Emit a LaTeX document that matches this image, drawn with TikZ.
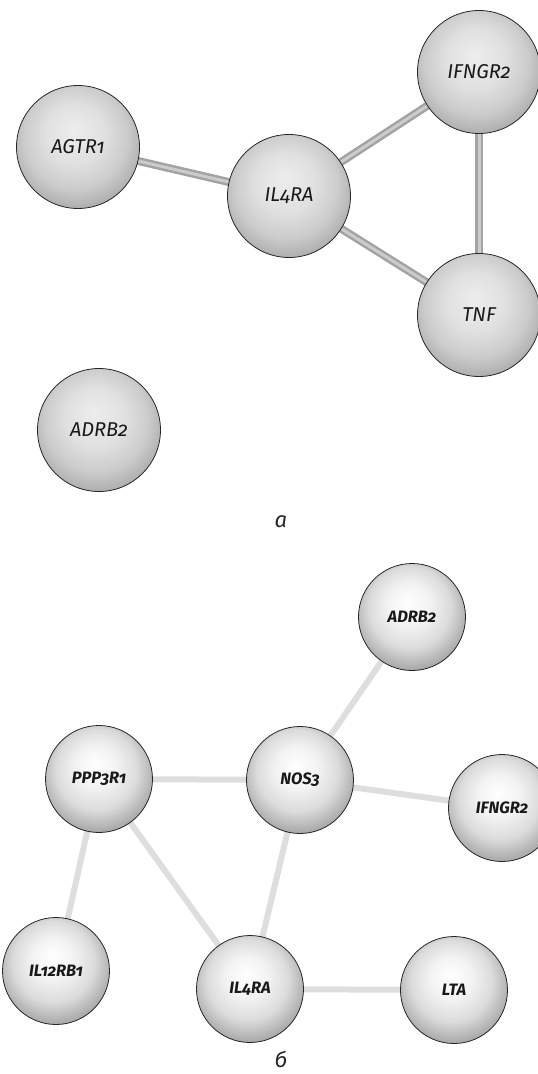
\documentclass[tikz,border=0pt]{standalone}
\usepackage{fontspec}
\setmainfont{Fira Sans}[Numbers=OldStyle]
\newfontfamily\capfont{Fira Sans}
\pgfdeclarelayer{bg}
\pgfsetlayers{bg,main}
\pgfdeclareradialshading{sphereA}{\pgfqpoint{-2bp}{7bp}}{color(0bp)=(black!7); color(12bp)=(black!12); color(21bp)=(black!20); color(27bp)=(black!30); color(33bp)=(black!40); color(50bp)=(black!40)}
\pgfdeclareradialshading{sphereB}{\pgfqpoint{-2bp}{7bp}}{color(0bp)=(white); color(10bp)=(black!5); color(19bp)=(black!14); color(26bp)=(black!30); color(33bp)=(black!45); color(50bp)=(black!45)}
\tikzset{
  ballA/.style={circle, draw=black!85, line width=0.8pt, shade, shading=sphereA, minimum size=123pt, inner sep=0pt, font=\fontsize{20}{20}\selectfont\itshape, text=black!90},
  ballB/.style={circle, draw=black!85, line width=0.8pt, shade, shading=sphereB, minimum size=107pt, inner sep=0pt, font=\fontsize{16.5}{16.5}\selectfont\bfseries\itshape, text=black!90},
  edgeA/.style={draw=black!36, line width=8pt},
  edgeAhi/.style={draw=black!20, line width=3pt},
  edgeB/.style={draw=black!13, line width=6pt},
  panellabel/.style={font=\capfont\fontsize{22}{22}\selectfont\itshape, text=black!85, inner sep=1pt}
}
\begin{document}
\begin{tikzpicture}[x=1pt,y=-1pt]
\useasboundingbox (0,0) rectangle (538,1074);
% panel a
\node[ballA] (aAGTR) at (78,147) {AGTR1};
\node[ballA] (aIL4) at (289,196) {IL4RA};
\node[ballA] (aIFN) at (479,72) {IFNGR2};
\node[ballA] (aTNF) at (479,315) {TNF};
\node[ballA] (aADRB) at (99,430) {ADRB2};
\node[panellabel] (la) at (281,522) {а};
\begin{pgfonlayer}{bg}
\foreach \u/\v in {aAGTR/aIL4, aIL4/aIFN, aIL4/aTNF, aIFN/aTNF}{
  \draw[edgeA] (\u.center) -- (\v.center);
  \draw[edgeAhi] (\u.center) -- (\v.center);
}
\end{pgfonlayer}
% panel b
\node[ballB] (bADRB) at (412,617) {ADRB2};
\node[ballB] (bPPP) at (99,779) {PPP3R1};
\node[ballB] (bNOS) at (300,780) {NOS3};
\node[ballB] (bIFN) at (502,808) {IFNGR2};
\node[ballB] (bIL12) at (56,971) {IL12RB1};
\node[ballB] (bIL4) at (250,989) {IL4RA};
\node[ballB] (bLTA) at (454,990) {LTA};
\node[panellabel] (lb) at (281,1059) {б};
\begin{pgfonlayer}{bg}
\foreach \u/\v in {bADRB/bNOS, bPPP/bNOS, bNOS/bIFN, bPPP/bIL12, bPPP/bIL4, bNOS/bIL4, bIL4/bLTA}{
  \draw[edgeB] (\u.center) -- (\v.center);
}
\end{pgfonlayer}
\end{tikzpicture}
\end{document}
